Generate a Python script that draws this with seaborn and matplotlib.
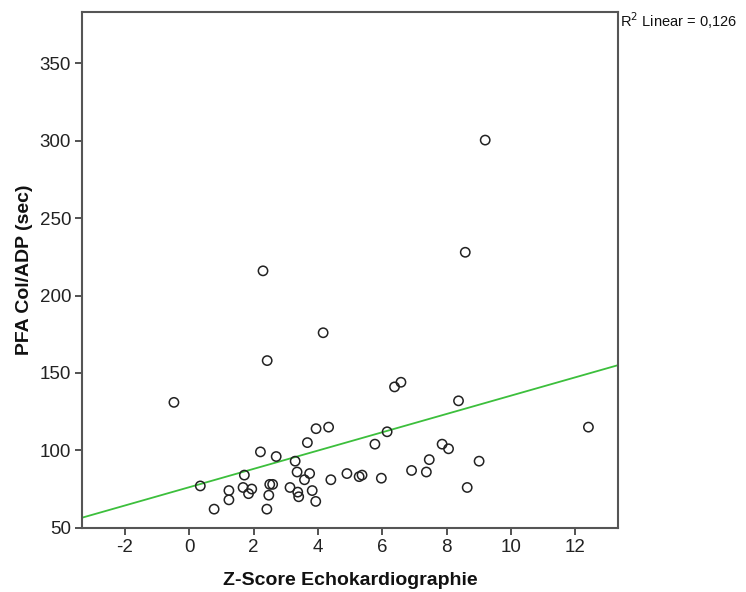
import numpy as np
import pandas as pd
import matplotlib
matplotlib.use("Agg")
import matplotlib.pyplot as plt
import seaborn as sns

z_score = [-0.48, 2.42, 4.16, 6.58, 6.38, 6.15, 5.77, 7.86, 8.06, 4.33,
           3.94, 3.67, 2.21, 2.70, 3.29, 3.35, 3.74, 3.58, 1.71, 0.34,
           1.23, 1.23, 0.77, 1.67, 1.94, 1.84, 2.50, 2.59, 2.47, 2.41,
           3.13, 3.37, 3.40, 3.82, 3.93, 4.40, 4.90, 5.28, 5.37, 5.97,
           6.91, 7.37, 7.46, 8.37, 9.01, 8.64, 12.41, 9.20, 8.58, 2.29]
pfa = [131, 158, 176, 144, 141, 112, 104, 104, 101, 115,
       114, 105, 99, 96, 93, 86, 85, 81, 84, 77,
       74, 68, 62, 76, 75, 72, 78, 78, 71, 62,
       76, 73, 70, 74, 67, 81, 85, 83, 84, 82,
       87, 86, 94, 132, 93, 76, 115, 300.5, 228, 216]

x_ticks = [-2, 0, 2, 4, 6, 8, 10, 12]
y_ticks = [50, 100, 150, 200, 250, 300, 350]

df = pd.DataFrame({"z": z_score, "pfa": pfa})

sns.set_style("white")
plt.rcParams['font.family'] = ['Liberation Sans', 'DejaVu Sans']

fig = plt.figure(figsize=(7.46, 5.92), dpi=100)
ax = fig.add_axes([0.1103, 0.1086, 0.828 - 0.1103, 0.979 - 0.1086])

xlim = (-3.33, 13.32)
ylim = (50, 383)
ax.set_xlim(*xlim)
ax.set_ylim(*ylim)

sns.regplot(data=df, x="z", y="pfa", ax=ax, scatter=False, ci=None,
            truncate=False, color="#3cbf3c", line_kws={"linewidth": 1.3})
sns.scatterplot(data=df, x="z", y="pfa", ax=ax, marker="o", s=45,
                facecolor="none", edgecolor="#222222", linewidth=1.1, zorder=3)

ax.set_xlim(*xlim)
ax.set_ylim(*ylim)
ax.set_xticks(x_ticks)
ax.set_yticks(y_ticks)
ax.set_xticklabels([str(t) for t in x_ticks])
ax.set_yticklabels([str(t) for t in y_ticks])
ax.tick_params(axis="both", direction="out", length=5, width=1.3,
               color="#444444", labelsize=13.5, labelcolor="#222222", pad=3)
ax.tick_params(top=False, right=False, left=True, bottom=True)

for sp in ax.spines.values():
    sp.set_visible(True)
    sp.set_color("#555555")
    sp.set_linewidth(1.5)

ax.set_xlabel("Z-Score Echokardiographie", fontsize=14, fontweight="bold",
              labelpad=12, color="#111111")
ax.set_ylabel("PFA Col/ADP (sec)", fontsize=14, fontweight="bold",
              labelpad=5, color="#111111")

fig.text(0.8315, 0.965, r"R$^2$ Linear = 0,126", fontsize=10.5,
         ha="left", va="center", color="#111111")

fig.savefig("out.png", dpi=100)
